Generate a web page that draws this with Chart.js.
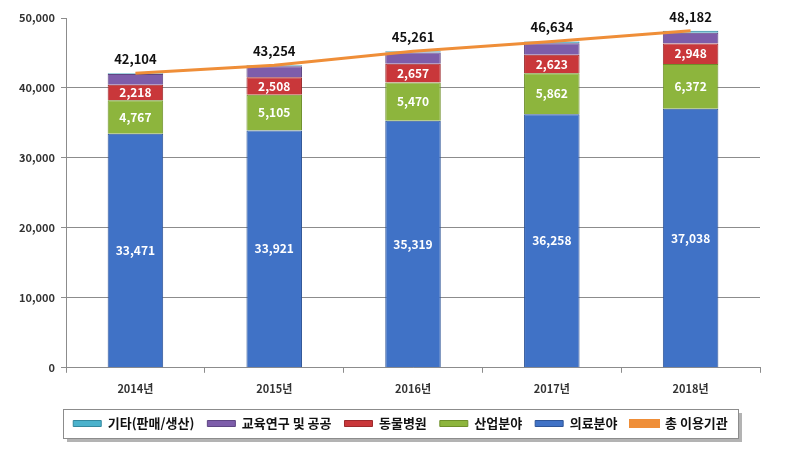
<!DOCTYPE html>
<html>
<head>
<meta charset="utf-8">
<script src="https://cdn.jsdelivr.net/npm/chart.js@4"></script>
<style>
  html, body { margin: 0; padding: 0; background: #fff; }
  #wrap { width: 790px; height: 455px; }
</style>
</head>
<body>
<div id="wrap"><canvas id="c" width="790" height="455"></canvas></div>
<script>
const years = ['2014년', '2015년', '2016년', '2017년', '2018년'];
const medical = [33471, 33921, 35319, 36258, 37038];
const industry = [4767, 5105, 5470, 5862, 6372];
const animal = [2218, 2508, 2657, 2623, 2948];
const education = [1548, 1570, 1615, 1641, 1524];
const etc = [100, 150, 200, 250, 300];
const total = [42104, 43254, 45261, 46634, 48182];

const fmt = v => v.toLocaleString('en-US');
const FONT = '"Noto Sans CJK KR", "Noto Sans", sans-serif';

// 범례 상자 테두리/그림자 + 값 라벨
const labelPlugin = {
    id: 'labels',
    afterUpdate(chart) {
        // 범례를 원본처럼 약간 오른쪽으로
        const lg = chart.legend;
        if (!lg || !lg.legendHitBoxes) return;
        const d = 14;
        lg.left += d;
        lg.right += d;
        lg.legendHitBoxes.forEach(h => { h.left += d; });
    },
    beforeDraw(chart) {
        const lg = chart.legend;
        if (!lg || !lg.legendHitBoxes || !lg.legendHitBoxes.length) return;
        const boxes = lg.legendHitBoxes;
        const x0 = Math.round(Math.min(...boxes.map(b => b.left)) - 10);
        const x1 = Math.round(Math.max(...boxes.map(b => b.left + b.width)) + 10);
        const y0 = Math.round(Math.min(...boxes.map(b => b.top)) - 8);
        const y1 = Math.round(Math.max(...boxes.map(b => b.top + b.height)) + 8);
        const ctx = chart.ctx;
        ctx.save();
        ctx.fillStyle = '#b3b3b3';
        ctx.fillRect(x0 + 4, y0 + 4, x1 - x0, y1 - y0);
        ctx.fillStyle = '#fff';
        ctx.fillRect(x0, y0, x1 - x0, y1 - y0);
        ctx.strokeStyle = '#8c8c8c';
        ctx.lineWidth = 1;
        ctx.strokeRect(x0 + 0.5, y0 + 0.5, x1 - x0, y1 - y0);
        ctx.restore();
    },
    afterDatasetsDraw(chart) {
        const ctx = chart.ctx;
        ctx.save();
        ctx.textAlign = 'center';
        ctx.textBaseline = 'middle';
        chart.data.datasets.forEach((ds, i) => {
            if (!ds.showValues) return;
            const meta = chart.getDatasetMeta(i);
            meta.data.forEach((el, j) => {
                const v = ds.data[j];
                if (ds.type === 'line') {
                    ctx.font = 'bold 13px ' + FONT;
                    ctx.fillStyle = '#111';
                    ctx.fillText(fmt(v), el.x, el.y - 14);
                } else {
                    ctx.font = 'bold 12px ' + FONT;
                    ctx.fillStyle = '#fff';
                    ctx.fillText(fmt(v), el.x, (el.y + el.base) / 2);
                }
            });
        });
        ctx.restore();
    }
};

new Chart(document.getElementById('c'), {
    data: {
        labels: years,
        datasets: [
            { type: 'line', label: '총 이용기관', data: total, stack: 'line', order: 0,
              borderColor: '#EF8E38', backgroundColor: '#EF8E38', borderWidth: 3,
              pointRadius: 0, tension: 0, showValues: true },
            { type: 'bar', label: '의료분야', data: medical, stack: 's', order: 1,
              backgroundColor: '#4072C6', borderColor: '#2F5597', borderWidth: 1, showValues: true },
            { type: 'bar', label: '산업분야', data: industry, stack: 's', order: 1,
              backgroundColor: '#8DB53D', borderColor: '#6E8F2A', borderWidth: 1, showValues: true },
            { type: 'bar', label: '동물병원', data: animal, stack: 's', order: 1,
              backgroundColor: '#C9373A', borderColor: '#9C2A2C', borderWidth: 1, showValues: true },
            { type: 'bar', label: '교육연구 및 공공', data: education, stack: 's', order: 1,
              backgroundColor: '#7D5DAA', borderColor: '#5E4683', borderWidth: 1 },
            { type: 'bar', label: '기타(판매/생산)', data: etc, stack: 's', order: 1,
              backgroundColor: '#4BB2CC', borderColor: '#34889E', borderWidth: 1 }
        ]
    },
    options: {
        responsive: false,
        animation: false,
        datasets: { bar: { barPercentage: 0.4, categoryPercentage: 1 } },
        layout: { padding: { left: 13, right: 30, top: 18, bottom: 15 } },
        scales: {
            x: {
                stacked: true,
                offset: true,
                grid: { offset: true, drawOnChartArea: false, drawTicks: true, tickLength: 5, color: '#8c8c8c' },
                border: { color: '#8c8c8c' },
                ticks: { color: '#333', font: { family: FONT, size: 11, weight: 'bold' }, padding: 9 }
            },
            y: {
                stacked: true,
                min: 0,
                max: 50000,
                ticks: { stepSize: 10000, color: '#333', padding: 6,
                         font: { family: FONT, size: 11, weight: 'bold' },
                         callback: v => fmt(v) },
                grid: { color: ctx => (ctx.tick && ctx.tick.value === 50000) ? 'rgba(0,0,0,0)' : '#8c8c8c',
                        tickColor: '#8c8c8c', tickLength: 5 },
                border: { color: '#8c8c8c' }
            }
        },
        plugins: {
            tooltip: { enabled: false },
            legend: {
                position: 'bottom',
                reverse: true,
                labels: {
                    boxWidth: 28,
                    boxHeight: 6,
                    padding: 13,
                    color: '#111',
                    font: { family: FONT, size: 13, weight: 'bold' }
                }
            }
        }
    },
    plugins: [labelPlugin]
});
</script>
</body>
</html>
